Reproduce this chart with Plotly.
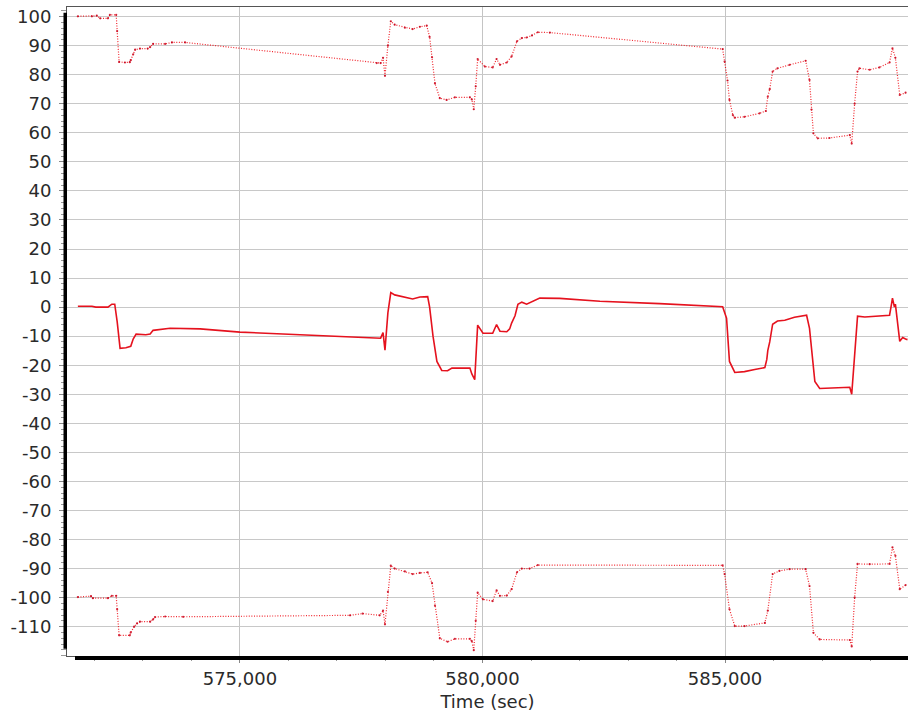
import plotly.graph_objects as go

# Upper channel (offset around +100), sampled points
t_upper = [571660, 571950, 572050, 572120, 572280, 572320, 572450, 572470, 572510, 572630,
           572730, 572750, 572800, 572840, 572940, 573100, 573150, 573210, 573460, 573600,
           573870, 577820, 577900, 577950, 577990, 578050, 578110, 578190, 578400, 578560,
           578710, 578850, 578910, 578960, 579020, 579120, 579260, 579430, 579740, 579780,
           579820, 579860, 579900, 580050, 580210, 580290, 580360, 580500, 580600, 580710,
           580810, 580910, 581020, 581140, 581390, 584950, 584990, 585050, 585090, 585160,
           585200, 585400, 585710, 585840, 585880, 585920, 585980, 586080, 586330, 586660,
           586740, 586780, 586820, 586910, 587150, 587570, 587610, 587670, 587730, 587770,
           587980, 588180, 588390, 588450, 588510, 588600, 588720]
v_upper = [100.1, 100.1, 100.3, 99.4, 99.4, 100.6, 100.6, 95, 84.4, 84.2,
           84.3, 85.0, 87, 88.6, 89.0, 89.0, 89.5, 90.6, 90.6, 91.1,
           91.1, 84.0, 84.0, 85.8, 79.6, 90, 98.4, 97.2, 96.2, 95.7,
           96.5, 96.9, 93, 86, 77.0, 71.9, 71.3, 72.2, 72.2, 71.5,
           68.1, 76, 85.4, 82.8, 82.5, 85.4, 83.4, 84.2, 86.3, 91.5,
           92.6, 92.8, 93.5, 94.6, 94.5, 88.8, 84.5, 78, 71.3, 66.1,
           65.2, 65.5, 66.7, 67.5, 72.4, 75, 81.1, 82.2, 83.4, 84.8,
           78.2, 68, 59.8, 58.1, 58.2, 59.2, 56.3, 70, 81.1, 82.2,
           81.7, 82.5, 84.2, 89.1, 85.8, 73.0, 73.8]

# Middle channel (around 0)
t_mid = [571660, 571950, 572030, 572280, 572360, 572420, 572470, 572530, 572650, 572750,
         572800, 572860, 573060, 573150, 573210, 573350, 573560, 574180, 575000, 576240,
         577900, 577950, 577990, 578050, 578110, 578190, 578400, 578560, 578710, 578870,
         578910, 578980, 579060, 579160, 579280, 579370, 579740, 579780, 579840, 579900,
         580010, 580210, 580290, 580360, 580500, 580560, 580600, 580670, 580730, 580810,
         580910, 581040, 581180, 581590, 582420, 583650, 584950, 585030, 585090, 585200,
         585400, 585610, 585820, 585860, 585880, 585920, 585980, 586080, 586230, 586430,
         586680, 586740, 586800, 586850, 586950, 587150, 587570, 587610, 587670, 587730,
         587880, 588180, 588390, 588430, 588450, 588490, 588510, 588600, 588660, 588720,
         588760]
v_mid = [0.3, 0.3, 0.0, 0.0, 1.0, 1.0, -5, -14.2, -14.0, -13.5,
         -11, -9.3, -9.5, -9.3, -8.0, -7.8, -7.3, -7.5, -8.6, -9.5,
         -10.7, -8.8, -14.8, -2, 5.0, 4.2, 3.5, 2.8, 3.5, 3.6,
         0, -10, -18.7, -21.8, -21.9, -21.0, -21.0, -23, -25, -6.2,
         -9.0, -9.0, -6.0, -8.3, -8.5, -7.5, -5.5, -3, 1.0, 1.7,
         1.0, 2.0, 3.1, 3.0, 2.0, 1.2, 0.1, -3.8, -18.7, -22.5,
         -22.2, -21.5, -20.8, -18, -15, -12, -5.9, -4.8, -4.5, -3.5,
         -2.8, -7.3, -18, -25.6, -28.0, -27.8, -27.6, -30.0, -15, -3.1,
         -3.4, -3.0, -2.8, 1, 3.1, 0, 1.0, -11.8, -10.5, -11.0,
         -11.2]

# Lower channel (offset around -100)
t_lower = [571660, 571930, 571970, 572280, 572360, 572450, 572470, 572510, 572730, 572750,
           572820, 572880, 572940, 573150, 573210, 573250, 573460, 573830, 577270, 577530,
           577880, 577950, 577990, 578050, 578110, 578190, 578400, 578560, 578710, 578870,
           578960, 579020, 579120, 579280, 579430, 579740, 579780, 579820, 579860, 579900,
           580010, 580210, 580290, 580360, 580500, 580600, 580710, 580810, 580970, 581140,
           584950, 584990, 585090, 585200, 585400, 585820, 585880, 585980, 586120, 586330,
           586660, 586740, 586820, 586950, 587570, 587610, 587670, 587730, 587980, 588390,
           588450, 588510, 588600, 588720]
v_lower = [-99.8, -99.5, -100.2, -100.2, -99.4, -99.4, -104, -113.0, -113.0, -112.0,
           -110, -108.9, -108.3, -108.3, -107.5, -106.7, -106.5, -106.6, -106.1, -105.5,
           -106.1, -104.5, -109.2, -98, -89.0, -90.0, -91.0, -91.9, -91.5, -91.3,
           -95, -102.8, -114.0, -115.2, -114.2, -114.2, -115, -118.1, -108, -98.3,
           -100.6, -101.2, -97.5, -99.4, -99.3, -97.1, -91.3, -90.0, -90.0, -88.8,
           -88.9, -91.9, -104.0, -109.8, -109.8, -108.7, -104.5, -91.9, -90.8, -90.2,
           -90.2, -96.0, -112.1, -114.4, -114.6, -116.8, -100, -88.4, -88.5, -88.4,
           -82.7, -85.6, -97.1, -95.7]

y_ticks = list(range(-110, 101, 10))
y_labels = [str(v) for v in y_ticks]
x_ticks = [575000, 580000, 585000]
x_labels = ["575,000", "580,000", "585,000"]

X_RANGE = [571436, 588770]
Y_RANGE = [-120.1, 103.3]

FONT = "DejaVu Sans"
TEXT = "#2a2a2a"

fig = go.Figure()

dotted = dict(color="rgba(238,0,10,0.85)", width=1.2, dash="1px,1.6px")
dots = dict(size=2.2, color="rgba(200,0,25,0.85)")

fig.add_trace(go.Scatter(x=t_upper, y=v_upper, mode="lines+markers",
                         line=dotted, marker=dots, showlegend=False))
fig.add_trace(go.Scatter(x=t_mid, y=v_mid, mode="lines",
                         line=dict(color="#e5121e", width=1.6), showlegend=False))
fig.add_trace(go.Scatter(x=t_lower, y=v_lower, mode="lines+markers",
                         line=dotted, marker=dots, showlegend=False))

fig.update_layout(
    width=908, height=721,
    margin=dict(l=67, r=0, t=7, b=65),
    paper_bgcolor="white", plot_bgcolor="white",
    font=dict(family=FONT, size=18, color=TEXT),
    xaxis=dict(
        range=X_RANGE, tickmode="array", tickvals=x_ticks, ticktext=x_labels,
        showgrid=True, gridcolor="#c4c4c4", gridwidth=1, zeroline=False,
        showline=True, linecolor="#555555", linewidth=1, mirror=True,
        ticks="outside", ticklen=6, tickcolor="#888888", tickwidth=1,
        minor=dict(dtick=1000, tick0=0, ticks="outside", ticklen=4,
                   tickcolor="#999999", showgrid=False),
        tickfont=dict(family=FONT, size=18, color=TEXT),
        title=dict(text="Time (sec)", font=dict(family=FONT, size=18, color=TEXT), standoff=7),
    ),
    yaxis=dict(
        range=Y_RANGE, tickmode="array", tickvals=y_ticks, ticktext=y_labels,
        showgrid=True, gridcolor="#c8c8c8", gridwidth=1, zeroline=False,
        showline=True, linecolor="#555555", linewidth=1, mirror=True,
        ticks="outside", ticklen=7, tickcolor="#888888", tickwidth=1,
        minor=dict(dtick=2, tick0=0, ticks="outside", ticklen=5,
                   tickcolor="#999999", showgrid=False),
        tickfont=dict(family=FONT, size=18, color=TEXT),
        ticklabelstandoff=4,
    ),
    shapes=[
        # heavy bar along the value axis
        dict(type="rect", xref="paper", yref="paper", xsizemode="pixel", xanchor=0,
             x0=-3.5, x1=0, y0=0.011, y1=0.991, fillcolor="black", line=dict(width=0),
             layer="above"),
        # heavy bar along the time axis
        dict(type="rect", xref="paper", yref="paper", ysizemode="pixel", yanchor=0,
             y0=-4, y1=0, x0=0.0095, x1=1, fillcolor="black", line=dict(width=0),
             layer="above"),
    ],
)

fig.write_html("out.html")
